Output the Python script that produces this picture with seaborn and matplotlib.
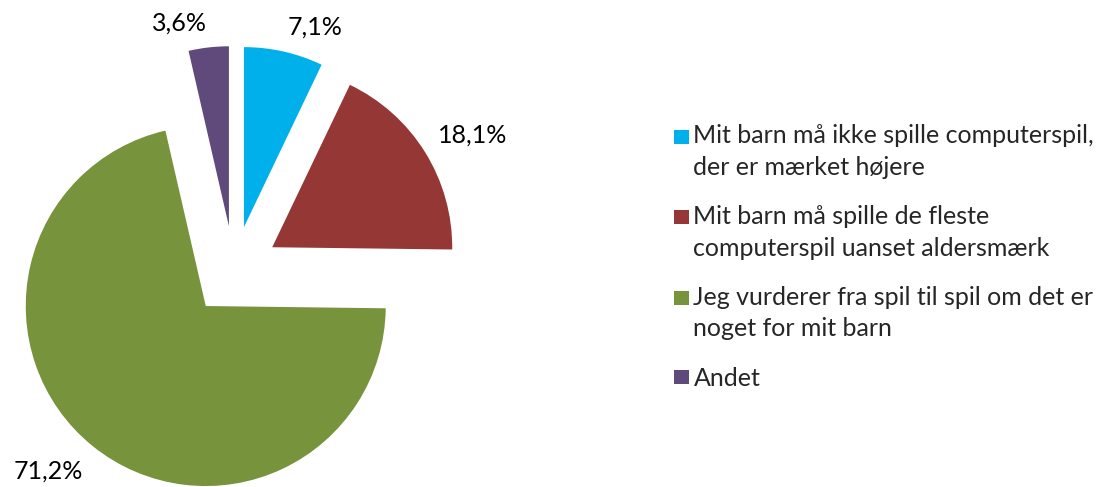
import matplotlib
matplotlib.use("Agg")
import matplotlib.pyplot as plt
import seaborn as sns
import numpy as np
from matplotlib.patches import Rectangle
from matplotlib.legend_handler import HandlerBase

# ---- data ----
categories = [
    "Mit barn må ikke spille computerspil,\nder er mærket højere",
    "Mit barn må spille de fleste\ncomputerspil uanset aldersmærk",
    "Jeg vurderer fra spil til spil om det er\nnoget for mit barn",
    "Andet",
]
values = [7.1, 18.1, 71.2, 3.6]
colors = ["#00B0EA", "#953735", "#77933C", "#604A7B"]
value_labels = [f"{v:.1f}".replace(".", ",") + "%" for v in values]

# ---- style ----
sns.set_theme(style="white")
plt.rcParams["font.family"] = ["Lato", "DejaVu Sans"]
FS = 18

W, H, DPI = 1107, 487, 100
fig = plt.figure(figsize=(W / DPI, H / DPI), dpi=DPI)
fig.patch.set_facecolor("white")

# pie axes: centre and radius in pixels
cx, cy, R, S = 234, 271, 180, 250
ax = fig.add_axes([(cx - S) / W, (H - cy - S) / H, 2 * S / W, 2 * S / H])

wedges, texts = ax.pie(
    values,
    explode=[0.25] * len(values),
    startangle=90,
    counterclock=False,
    colors=colors,
    labels=value_labels,
    labeldistance=1.2,
    wedgeprops=dict(linewidth=0),
    textprops=dict(fontsize=FS, color="black"),
)
ax.set_xlim(-S / R, S / R)
ax.set_ylim(-S / R, S / R)
ax.set_axis_off()

# "outside end" labels: nearest box corner sits just outside the wedge arc
fig.canvas.draw()
renderer = fig.canvas.get_renderer()
for w, t in zip(wedges, texts):
    th = np.deg2rad((w.theta1 + w.theta2) / 2)
    bb = t.get_window_extent(renderer)
    tw, thh = bb.width / R, bb.height / R
    px = w.center[0] + w.r * 1.085 * np.cos(th)
    py = w.center[1] + w.r * 1.085 * np.sin(th)
    t.set_position((px + np.sign(np.cos(th)) * tw / 2,
                    py + np.sign(np.sin(th)) * thh / 2))
    t.set_ha("center")
    t.set_va("center_baseline")

# ---- legend with square aligned to first line ----
PT = 72 / DPI
SQ_W, SQ_H, PITCH = 15 * PT, 14 * PT, 31 * PT


class TopSquare(HandlerBase):
    def create_artists(self, legend, orig_handle, xdescent, ydescent,
                       width, height, fontsize, trans):
        n = getattr(orig_handle, "_nlines", 1)
        yc = 0.36 * fontsize + (n - 1) / 2 * PITCH
        r = Rectangle((-xdescent, yc - SQ_H / 2), SQ_W, SQ_H,
                      facecolor=orig_handle.get_facecolor(),
                      edgecolor="none", transform=trans)
        return [r]


handles = []
for c, lab in zip(colors, categories):
    h = Rectangle((0, 0), 1, 1, facecolor=c)
    h._nlines = lab.count("\n") + 1
    handles.append(h)

leg = fig.legend(
    handles, categories,
    handler_map={Rectangle: TopSquare()},
    loc="center left",
    bbox_to_anchor=(674 / W, 1 - 257 / H),
    bbox_transform=fig.transFigure,
    frameon=False,
    fontsize=FS,
    handlelength=SQ_W / FS,
    handleheight=0.7,
    handletextpad=4.5 * PT / FS,
    labelspacing=1.05,
    borderpad=0,
    borderaxespad=0,
)
for t in leg.get_texts():
    t.set_linespacing(1.45)

fig.savefig("out.png", dpi=DPI)
